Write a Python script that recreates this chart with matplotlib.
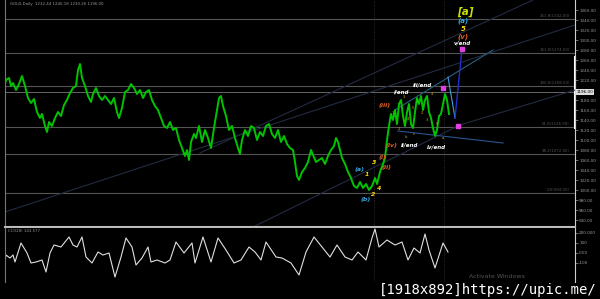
import matplotlib
matplotlib.use("Agg")
import matplotlib.pyplot as plt

# price path (bar number, price)
bar_x = [0, 2, 4, 6, 9, 11, 13, 16, 19, 22, 25, 28, 31, 34, 37, 40, 42, 45, 47, 49,
         52, 55, 58, 61, 64, 67, 70, 73, 76, 78, 80, 82, 85, 88, 91, 93, 96, 99, 102, 105,
         108, 111, 114, 117, 119, 122, 125, 128, 131, 134, 137, 140, 143, 146, 149, 152, 155, 158, 161, 164,
         167, 170, 173, 176, 179, 182, 185, 187, 189, 191, 194, 196, 199, 202, 205, 208, 211, 214, 217, 219,
         221, 223, 226, 229, 232, 235, 238, 240, 242, 245, 248, 251, 254, 257, 260, 263, 266, 269, 272, 275,
         278, 281, 284, 287, 290, 293, 295, 297, 299, 302, 305, 308, 311, 313, 316, 319, 322, 325, 328, 331,
         334, 336, 338, 340, 342, 345, 348, 351, 354, 357, 360, 363, 366, 369, 372, 375, 377, 380, 383, 385,
         387, 389, 391, 393, 395, 397, 399, 401, 403, 405, 407, 409, 411, 413, 415, 417, 419, 421, 423, 425,
         427, 429, 431, 433, 435, 437, 439, 441, 443, 445, 447, 449]
close = [1210, 1236, 1204, 1220, 1224, 1208, 1214, 1200, 1212, 1228, 1208, 1184, 1174, 1182, 1156, 1144, 1152, 1128, 1116, 1136,
         1128, 1144, 1156, 1148, 1170, 1180, 1194, 1204, 1208, 1240, 1252, 1224, 1208, 1188, 1176, 1192, 1204, 1188, 1180, 1188,
         1180, 1172, 1184, 1156, 1144, 1164, 1196, 1200, 1212, 1204, 1192, 1200, 1184, 1196, 1200, 1180, 1168, 1160, 1144, 1128,
         1124, 1136, 1120, 1124, 1100, 1084, 1068, 1080, 1060, 1096, 1112, 1104, 1128, 1096, 1120, 1104, 1084, 1124, 1160, 1184,
         1188, 1168, 1148, 1120, 1128, 1104, 1084, 1072, 1100, 1120, 1108, 1128, 1124, 1100, 1116, 1108, 1128, 1132, 1112, 1104,
         1120, 1096, 1108, 1092, 1084, 1080, 1056, 1028, 1020, 1036, 1044, 1056, 1080, 1070, 1056, 1060, 1064, 1052, 1068, 1080,
         1088, 1104, 1096, 1080, 1064, 1052, 1036, 1024, 1008, 1004, 1016, 1004, 1012, 1000, 1008, 1024, 1012, 1036, 1052, 1064,
         1100, 1128, 1152, 1140, 1160, 1132, 1172, 1180, 1148, 1128, 1156, 1172, 1132, 1124, 1156, 1184, 1172, 1188, 1160, 1180,
         1188, 1156, 1144, 1124, 1108, 1120, 1148, 1152, 1172, 1192, 1180, 1152]

# CCI(28) indicator
cci_x = [4, 6, 10, 13, 15, 21, 27, 31, 36, 42, 46, 50, 54, 61, 69, 73, 77, 82, 86, 92,
         98, 103, 109, 115, 121, 126, 132, 136, 142, 148, 151, 157, 165, 170, 176, 184, 192, 195, 203, 211,
         218, 226, 234, 241, 249, 255, 261, 266, 276, 282, 291, 299, 306, 314, 322, 330, 337, 345, 352, 358,
         366, 372, 375, 379, 387, 395, 402, 408, 414, 420, 425, 429, 435, 443, 448]
cci = [-150, -20, -50, -20, -90, 100, 0, -100, -90, -70, -190, 0, 80, 60, 160, 80, 60, 160, -40, -100,
       10, -20, 0, -240, -40, 150, 60, -120, -50, 60, -90, -70, -100, -70, 110, 0, 100, -100, 160, -90,
       150, 30, -100, -70, 60, 10, -70, 110, -40, -50, -100, -220, 10, 160, 60, -40, 80, -40, -70, 10,
       -70, 150, 240, 60, 130, 80, 110, -70, 50, 0, 190, 30, -150, 100, 10]

# fibonacci levels and their labels
fib_levels = [1342, 1274, 1208, 1126, 1072, 994]
fib_labels = ["261.8(1342.00)", "161.8(1274.00)", "100.0(1208.00)",
              "61.8(1126.00)", "38.2(1072.00)", "0.0(994.00)"]
last_price = 1196
price_ticks = [940, 960, 980, 1000, 1020, 1040, 1060, 1080, 1100, 1120, 1140, 1160, 1180,
               1220, 1240, 1260, 1280, 1300, 1320, 1340, 1360]

# wave labels: (text, bar, price, colour, size)
wave_labels = [
    ("[a]", 465, 1356, "#c8e000", 7.5),
    ("(a)", 463, 1338, "#2fa8e0", 5),
    ("5", 463, 1322, "#ffd700", 5),
    ("(v)", 463, 1306, "#e06020", 5),
    ("v/end", 462, 1294, "white", 4),
    ("iii/end", 422, 1210, "white", 4),
    ("i/end", 402, 1196, "white", 4),
    ("(iii)", 385, 1170, "#e06020", 4.5),
    ("(iv)", 392, 1090, "#e06020", 4.5),
    ("ii/end", 410, 1090, "white", 4),
    ("iv/end", 436, 1086, "white", 4),
    ("(i)", 382, 1066, "#e06020", 4.5),
    ("3", 374, 1054, "#ffd700", 4.5),
    ("(ii)", 387, 1044, "#e06020", 4.5),
    ("(a)", 360, 1042, "#2fa8e0", 4.5),
    ("1", 367, 1030, "#ffd700", 4.5),
    ("4", 379, 1002, "#ffd700", 4.5),
    ("2", 373, 992, "#ffd700", 4.5),
    ("(b)", 366, 982, "#2fa8e0", 4.5),
]
# small sub-wave numbers
sub_x = [393, 399, 404, 408, 413, 417, 422, 427, 432, 437, 443, 406, 414]
sub_p = [1154, 1122, 1186, 1142, 1164, 1176, 1154, 1140, 1192, 1132, 1104, 1106, 1112]
sub_t = ["1", "2", "3", "4", "5", "1", "2", "3", "4", "5", "a", "b", "c"]

fig = plt.figure(figsize=(6, 2.99), dpi=100, facecolor="black")
ax = fig.add_axes([5/600, 72/299, 570/600, 227/299], facecolor="black")
ax2 = fig.add_axes([5/600, 17/299, 570/600, 54/299], facecolor="black")

for a in (ax, ax2):
    a.set_xlim(5, 575)
    a.set_xticks([])
    a.yaxis.tick_right()
    a.tick_params(axis="y", colors="#999999", labelsize=3, length=2, width=0.5, pad=1)
    a.spines["top"].set_visible(False)
    a.spines["left"].set_color("#777777")
    a.spines["right"].set_color("#cccccc")
    a.spines["bottom"].set_color("#bbbbbb")
    a.axvline(374, color="#3a3a3a", lw=0.6, ls=":")
    a.axvline(444, color="#3a3a3a", lw=0.6, ls=":")

ax.set_ylim(926, 1380)
ax.set_yticks(price_ticks)
ax.set_yticklabels([f"{v:.2f}" for v in price_ticks])
ax.spines["bottom"].set_linewidth(1.5)

# fibonacci lines
for lv, lb in zip(fib_levels, fib_labels):
    ax.axhline(lv, color="#555555", lw=0.8)
    ax.text(570, lv + 2, lb, color="#555555", fontsize=2.8, ha="right", va="bottom")
ax.axhline(last_price, color="#777777", lw=0.6)
ax.text(577, last_price, f"{last_price:.2f}", color="black", fontsize=3, va="center",
        bbox=dict(boxstyle="square,pad=0.15", fc="#dddddd", ec="none"), clip_on=False)
ax.plot([575, 575], [1124, 1266], color="white", lw=1.5, clip_on=False)

# trend lines
ax.plot([5, 575], [956, 1330], color="#222b40", lw=0.8)
ax.plot([200, 533], [1074, 1380], color="#222b40", lw=0.8)
ax.plot([247, 460, 575], [920, 1130, 1200], color="#222b40", lw=0.8)
ax.plot([395, 493], [1160, 1280], color="#2a6080", lw=0.8)
ax.plot([398, 503], [1118, 1094], color="#2a5590", lw=0.8)

# price
ax.plot(bar_x, close, color="#00c400", lw=1.4)

# projection
ax.plot([448, 455], [1226, 1144], color="#40a0e0", lw=0.8)
ax.plot([455, 462], [1144, 1282], color="#2030d0", lw=1.0)
ax.scatter([443, 458, 462], [1204, 1128, 1282], marker="s", s=5, color="#e040e0", zorder=5)

for t, x, y, c, s in wave_labels:
    ax.text(x, y, t, color=c, fontsize=s, ha="center", va="center",
            fontweight="bold", fontstyle="italic")
for x, y, t in zip(sub_x, sub_p, sub_t):
    ax.text(x, y, t, color="#d0a020", fontsize=2.8, ha="center", va="center")

ax.text(10, 1372, "GOLD,Daily  1232.44 1240.18 1230.26 1196.00", color="#999999", fontsize=2.8, va="center")

# CCI pane
ax2.set_ylim(-290, 250)
ax2.set_yticks([-100, 0, 100, 200])
ax2.set_yticklabels(["-100", "0.00", "100", "200.000"])
ax2.spines["bottom"].set_visible(False)
ax2.plot(cci_x, cci, color="#e0e0e0", lw=0.8)
ax2.text(8, 238, "CCI(28) 143.577", color="#999999", fontsize=2.8, va="top")
ax2.text(497, -230, "Activate Windows", color="#555555", fontsize=4.5, ha="center", va="center")

fig.text(0.995, 0.03, "[1918x892]https://upic.me/", color="white", fontsize=10,
         family="DejaVu Sans Mono", ha="right", va="center")

fig.savefig("out.png", dpi=100, facecolor="black")
